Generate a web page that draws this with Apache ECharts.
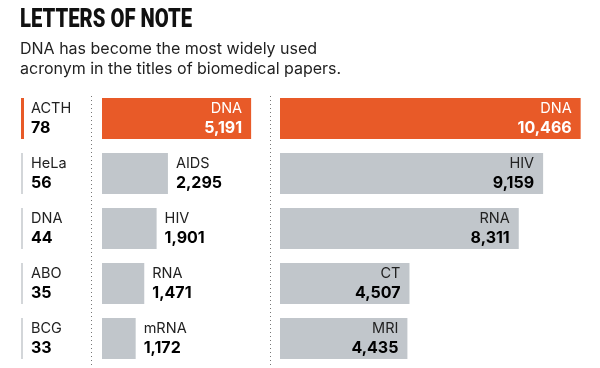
<!DOCTYPE html>
<html><head><meta charset="utf-8">
<script src="https://cdn.jsdelivr.net/npm/echarts@6/dist/echarts.min.js"></script>
<style>html,body{margin:0;padding:0;background:#fff}#c{width:600px;height:368px}</style>
</head><body><div id="c"></div>
<script>
const leftNames = ['ACTH', 'HeLa', 'DNA', 'ABO', 'BCG'];
const leftValues = [78, 56, 44, 35, 33];
const midNames = ['DNA', 'AIDS', 'HIV', 'RNA', 'mRNA'];
const midValues = [5191, 2295, 1901, 1471, 1172];
const rightNames = ['DNA', 'HIV', 'RNA', 'CT', 'MRI'];
const rightValues = [10466, 9159, 8311, 4507, 4435];

const ORANGE = '#E85A28';
const GREY = '#C1C6CB';
const FONT = 'Inter, Roboto, sans-serif';
const VFONT = 'Inter, Roboto, sans-serif';
const fmt = v => v.toLocaleString('en-US');

const TITLE_FONT = '900 25px Roboto, sans-serif';
const ctx = document.createElement('canvas').getContext('2d');
ctx.font = TITLE_FONT;
const titleScale = 172 / ctx.measureText('LETTERS OF NOTE').width;

const chart = echarts.init(document.getElementById('c'), null, {renderer: 'canvas'});

const gridTop = 91, gridBottom = 2;
const rich = (nameColor, valColor, align) => ({
  n: {fontFamily: FONT, fontSize: 14.5, color: nameColor, lineHeight: 19, align: align},
  v: {fontFamily: VFONT, fontSize: 16, fontWeight: 'bold', color: valColor, lineHeight: 19, align: align}
});

function barData(names, values, panel) {
  return values.map((v, i) => {
    const first = i === 0;
    let label;
    if (panel === 'mid' && !first) {
      label = {position: 'right', distance: 8, align: 'left', rich: rich('#222', '#000', 'left')};
    } else {
      label = {position: 'insideRight', distance: 9, align: 'right',
        rich: first ? rich('#fff', '#fff', 'right') : rich('#222', '#000', 'right')};
    }
    return {value: v, name: names[i], itemStyle: {color: first ? ORANGE : GREY}, label: label};
  });
}

const option = {
  animation: false,
  graphic: [
    {type: 'text', x: 20, y: 21, scaleX: titleScale, originX: 0,
      style: {text: 'LETTERS OF NOTE', font: TITLE_FONT, fill: '#111', textVerticalAlign: 'middle'}},
    {type: 'text', x: 20, y: 49.5, style: {text: 'DNA has become the most widely used', font: '16px ' + FONT, fill: '#222', textVerticalAlign: 'middle'}},
    {type: 'text', x: 20, y: 69.5, style: {text: 'acronym in the titles of biomedical papers.', font: '16px ' + FONT, fill: '#222', textVerticalAlign: 'middle'}},
    {type: 'line', shape: {x1: 91.5, y1: 96, x2: 91.5, y2: 368}, style: {stroke: '#777', lineWidth: 1, lineDash: [1, 3]}},
    {type: 'line', shape: {x1: 270.5, y1: 96, x2: 270.5, y2: 368}, style: {stroke: '#777', lineWidth: 1, lineDash: [1, 3]}}
  ],
  grid: [
    {left: 21, width: 60, top: gridTop, bottom: gridBottom},
    {left: 102, width: 158, top: gridTop, bottom: gridBottom},
    {left: 280, width: 316, top: gridTop, bottom: gridBottom}
  ],
  xAxis: [
    {gridIndex: 0, type: 'value', min: 0, max: 1, show: false},
    {gridIndex: 1, type: 'value', min: 0, max: 5500, show: false},
    {gridIndex: 2, type: 'value', min: 0, max: 11000, show: false}
  ],
  yAxis: [
    {gridIndex: 0, type: 'category', data: leftNames, inverse: true, show: false},
    {gridIndex: 1, type: 'category', data: midNames, inverse: true, show: false},
    {gridIndex: 2, type: 'category', data: rightNames, inverse: true, show: false}
  ],
  series: [
    {
      type: 'custom', xAxisIndex: 0, yAxisIndex: 0,
      data: leftValues.map((v, i) => [0, i, v]),
      renderItem: function (params, api) {
        const i = params.dataIndex;
        const p = api.coord([0, i]);
        const band = api.size([0, 1])[1];
        const h = band * 0.745;
        return {
          type: 'group',
          children: [
            {type: 'rect', shape: {x: p[0], y: p[1] - h / 2, width: i === 0 ? 3 : 2, height: h},
              style: {fill: i === 0 ? ORANGE : '#D3D6D9'}},
            {type: 'text', style: {x: p[0] + 10, y: p[1] - 9.5, text: leftNames[i], fill: '#222',
              font: '14.5px ' + FONT, verticalAlign: 'middle', align: 'left'}},
            {type: 'text', style: {x: p[0] + 10, y: p[1] + 9.5, text: fmt(leftValues[i]), fill: '#000',
              font: 'bold 16px ' + VFONT, verticalAlign: 'middle', align: 'left'}}
          ]
        };
      }
    },
    {
      type: 'bar', xAxisIndex: 1, yAxisIndex: 1, barWidth: 41,
      data: barData(midNames, midValues, 'mid'),
      label: {show: true, formatter: p => '{n|' + p.name + '}\n{v|' + fmt(p.value) + '}'}
    },
    {
      type: 'bar', xAxisIndex: 2, yAxisIndex: 2, barWidth: 41,
      data: barData(rightNames, rightValues, 'right'),
      label: {show: true, formatter: p => '{n|' + p.name + '}\n{v|' + fmt(p.value) + '}'}
    }
  ]
};
chart.setOption(option);
</script></body></html>
